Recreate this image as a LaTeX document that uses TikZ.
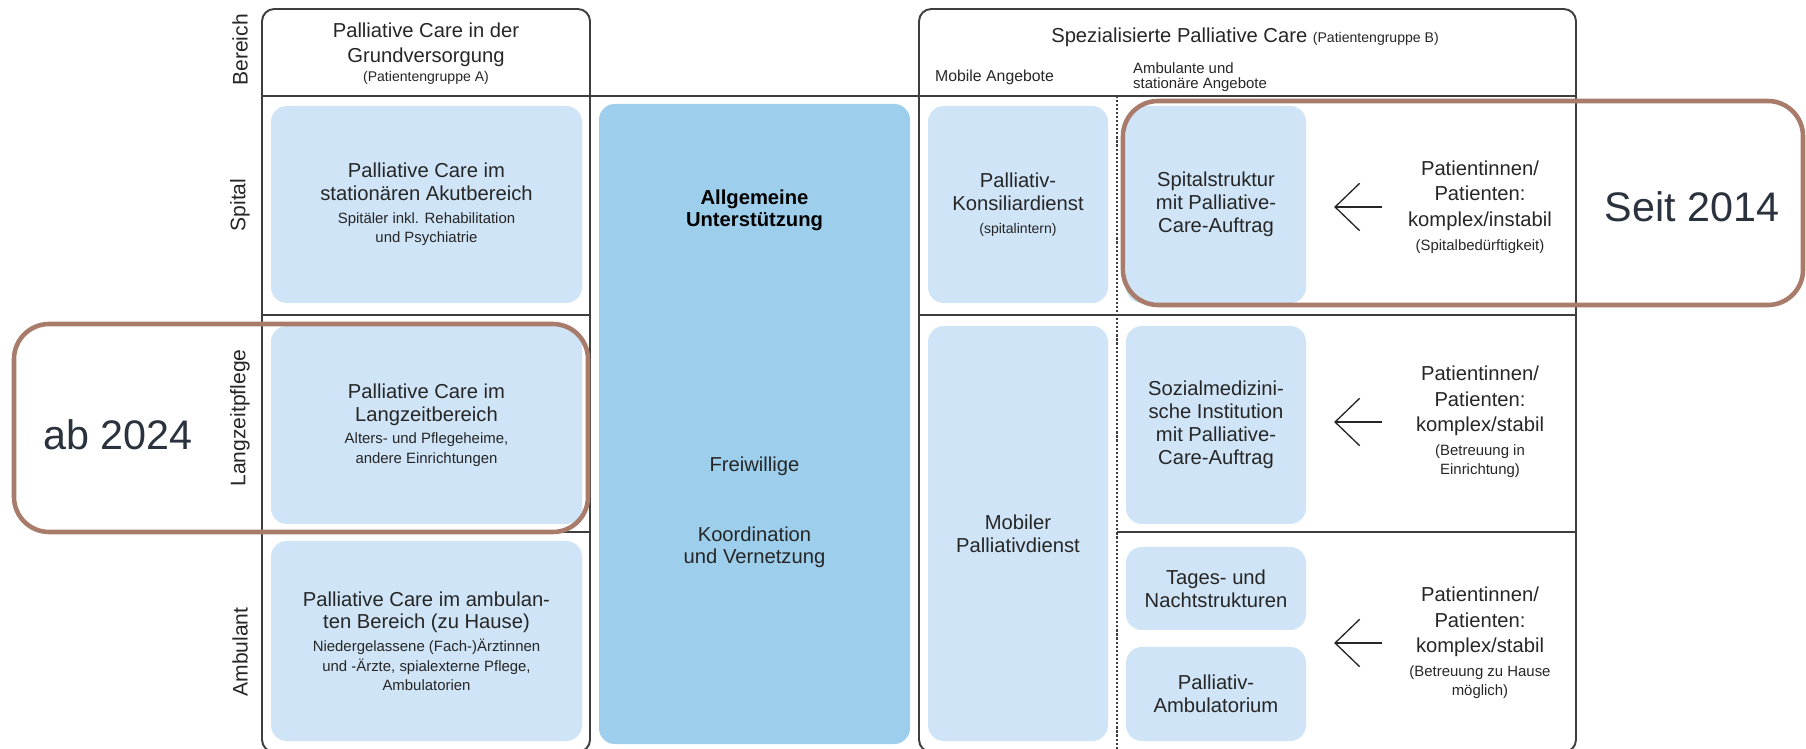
\documentclass[tikz,border=0pt]{standalone}
\usepackage{fontspec}
\setmainfont{Liberation Sans}
\usepackage{xcolor}
\usetikzlibrary{arrows.meta,positioning}
\definecolor{pcBlueLight}{RGB}{207,228,246}
\definecolor{pcBlueMid}{RGB}{157,206,236}
\definecolor{pcFrame}{RGB}{62,62,62}
\definecolor{pcText}{RGB}{38,38,38}
\definecolor{pcBrown}{RGB}{168,123,106}
\definecolor{pcSlate}{RGB}{42,50,62}

\newcommand{\pcTitle}{\fontsize{11.5}{13}\selectfont}
\newcommand{\pcMid}{\fontsize{11.5}{12.5}\selectfont}
\newcommand{\pcPat}{\fontsize{11.5}{14.5}\selectfont}
\newcommand{\pcSmall}{\fontsize{8.5}{11}\selectfont}
\newcommand{\pcTiny}{\fontsize{8}{9}\selectfont}

\begin{document}
\begin{tikzpicture}[x=0.02cm,y=-0.02cm,
    frame/.style={draw=pcFrame, line width=1.1pt},
    cell/.style 2 args={minimum width=#1*0.02cm, minimum height=#2*0.02cm},
    pcbox/.style={fill=pcBlueLight, rounded corners=9pt, inner sep=0pt, outer sep=0pt,
        align=center, text=pcText, font=\pcTitle},
    rowlabel/.style={rotate=90, text=pcText, font=\fontsize{12}{14}\selectfont},
    patient/.style={minimum width=3.2cm, align=center, inner sep=0pt, text=pcText, font=\pcPat},
    back/.style={draw=pcText, line width=0.75pt, -{Straight Barb[length=14pt,width=27pt]},
        shorten <=10pt, shorten >=16pt},
    hilite/.style={draw=pcBrown, line width=2.6pt, rounded corners=20pt},
    yearlabel/.style={text=pcSlate, font=\fontsize{23.5}{26}\selectfont}]
    \useasboundingbox (0,0) rectangle (1806,749);

    % frames
    \draw[frame, rounded corners=7pt] (262,9) rectangle (590,752);
    \draw[frame, rounded corners=7pt] (919,9) rectangle (1576,752);
    \draw[frame] (262,96) -- (1576,96);
    \draw[frame] (262,315) -- (590,315);
    \draw[frame] (262,532) -- (590,532);
    \draw[frame] (919,315) -- (1576,315);
    \draw[frame] (1117,532) -- (1576,532);
    \draw[pcFrame, line width=1.2pt, dash pattern=on 1.2pt off 1.1pt] (1117,96) -- (1117,752);

    % headers
    \node[rowlabel] (lbBereich) at (240,50) {Bereich};
    \node[text=pcText, align=center, font=\fontsize{11.5}{14}\selectfont] (hdGrund) at (426,54)
        {Palliative Care in der\\Grundversorgung\\[-3pt]{\pcTiny (Patientengruppe A)}};
    \node[text=pcText, font=\pcTitle] (hdSpez) at (1245,37)
        {Spezialisierte Palliative Care {\pcTiny (Patientengruppe B)}};
    \node[anchor=west, text=pcText, font=\fontsize{9}{10}\selectfont] (hdMob) at (929,77) {Mobile Angebote};
    \node[anchor=west, align=left, text=pcText, font=\fontsize{8.5}{8.5}\selectfont] (hdAmb) at (1127,77)
        {Ambulante und\\stationäre Angebote};

    % row labels
    \node[rowlabel] (lbSpital) at (240,205) {Spital};
    \node[rowlabel] (lbLang) at (240,418) {Langzeitpflege};
    \node[rowlabel] (lbAmb) at (240,652) {Ambulant};

    % Grundversorgung
    \node[pcbox, cell={311}{197}] (acute) at (426.5,204.5)
        {Palliative Care im\\stationären Akutbereich\\{\pcSmall Spitäler inkl. Rehabilitation}\\[-2pt]{\pcSmall und Psychiatrie}};
    \node[pcbox, cell={311}{198}] (ltc) at (426.5,425)
        {Palliative Care im\\Langzeitbereich\\{\pcSmall Alters- und Pflegeheime,}\\[-2pt]{\pcSmall andere Einrichtungen}};
    \node[pcbox, cell={311}{200}] (home) at (426.5,641)
        {Palliative Care im ambulan-\\ten Bereich (zu Hause)\\{\pcSmall Niedergelassene (Fach-)Ärztinnen}\\[-2pt]{\pcSmall und -Ärzte, spialexterne Pflege,}\\[-2pt]{\pcSmall Ambulatorien}};

    % allgemeine Unterstuetzung
    \node[pcbox, fill=pcBlueMid, cell={311}{640}] (allg) at (754.5,424) {};
    \node[text=black, align=center, font=\pcMid\bfseries] (allgT) at (754.5,210) {Allgemeine\\Unterstützung};
    \node[text=pcText, font=\pcMid] (freiw) at (754.5,466) {Freiwillige};
    \node[text=pcText, align=center, font=\pcMid] (koord) at (754.5,547) {Koordination\\und Vernetzung};

    % mobile Angebote
    \node[pcbox, cell={180}{197}] (konsil) at (1018,204.5)
        {Palliativ-\\Konsiliardienst\\{\pcTiny (spitalintern)}};
    \node[pcbox, cell={180}{415}] (mobil) at (1018,533.5) {Mobiler\\Palliativdienst};

    % ambulante und stationaere Angebote
    \node[pcbox, cell={180}{197}] (spst) at (1216,204.5) {Spitalstruktur\\mit Palliative-\\Care-Auftrag};
    \node[pcbox, cell={180}{198}] (sozmed) at (1216,425)
        {Sozialmedizini-\\sche Institution\\mit Palliative-\\Care-Auftrag};
    \node[pcbox, cell={180}{83}] (tages) at (1216,588.5) {Tages- und\\Nachtstrukturen};
    \node[pcbox, cell={180}{94}] (pamb) at (1216,694) {Palliativ-\\Ambulatorium};

    % patients
    \node[patient] (pat1) at (1480,207)
        {Patientinnen/\\Patienten:\\komplex/instabil\\[-1pt]{\pcSmall (Spitalbedürftigkeit)}};
    \node[patient] (pat2) at (1480,422)
        {Patientinnen/\\Patienten:\\komplex/stabil\\[-1pt]{\pcSmall (Betreuung in}\\[-3.5pt]{\pcSmall Einrichtung)}};
    \node[patient] (pat3) at (1480,643)
        {Patientinnen/\\Patienten:\\komplex/stabil\\[-1pt]{\pcSmall (Betreuung zu Hause}\\[-3.5pt]{\pcSmall möglich)}};
    \draw[back] (pat1.west) -- (pat1.west -| spst.east);
    \draw[back] (pat2.west) -- (pat2.west -| sozmed.east);
    \draw[back] (pat3.west) -- (pat3.west -| tages.east);

    % highlights
    \draw[hilite] (1123,101) rectangle (1803,305);
    \node[yearlabel] (seit) at (1692,207) {Seit 2014};
    \draw[hilite] (14,324) rectangle (588,532);
    \node[yearlabel] (ab) at (118,435) {ab 2024};
\end{tikzpicture}
\end{document}
